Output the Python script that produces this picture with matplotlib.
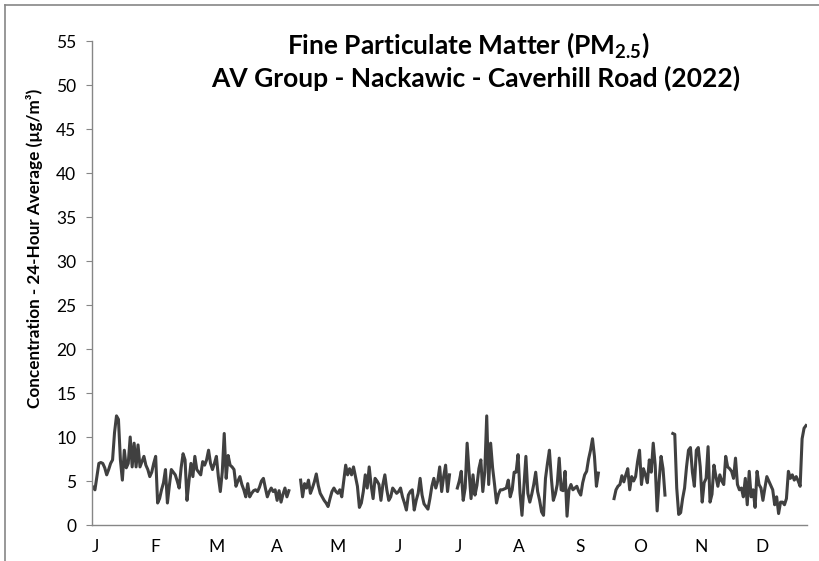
import numpy as np
import matplotlib
matplotlib.use("Agg")
import matplotlib.pyplot as plt
from matplotlib.lines import Line2D

plt.rcParams['font.family'] = ['Lato', 'DejaVu Sans']
plt.rcParams['mathtext.fontset'] = 'custom'
plt.rcParams['mathtext.rm'] = 'Lato'
plt.rcParams['mathtext.bf'] = 'Lato:bold'

nan = np.nan

# daily 24-hour PM2.5 averages (ug/m3), by month
jan = [4.3, 4.0, 5.5, 7.0, 7.1, 7.0, 6.5, 5.7, 6.3, 7.0, 7.4, 10.5, 12.4, 12.0, 7.4, 5.1,
       8.5, 6.5, 7.0, 10.0, 6.6, 9.3, 6.6, 9.1, 6.6, 7.2, 7.8, 6.8, 6.3, 5.5, 6.0]
feb = [7.0, 7.8, 2.5, 3.0, 4.0, 4.8, 6.3, 2.5, 4.5, 6.3, 6.0, 5.7, 5.0, 4.2, 6.5, 8.1,
       7.4, 2.8, 5.0, 7.0, 5.5, 7.8, 6.3, 6.0, 5.7, 7.2, 6.8, 7.4]
mar = [8.5, 7.0, 6.3, 7.0, 7.8, 5.5, 3.8, 6.0, 10.4, 5.3, 7.9, 6.8, 6.6, 6.3, 4.4, 5.0,
       5.5, 4.6, 4.0, 3.2, 4.7, 3.2, 3.6, 3.9, 4.0, 3.8, 4.3, 5.0, 5.3, 4.2, 3.2]
apr = [3.8, 4.2, 3.8, 4.0, 2.8, 3.9, 2.6, 3.5, 4.2, 3.2, 3.9, nan, nan, nan, nan, nan,
       5.1, 3.2, 4.7, 4.2, 5.1, 3.6, 4.2, 4.9, 5.8, 4.5, 3.6, 3.2, 2.8, 2.5]
may = [2.1, 3.0, 3.8, 4.2, 3.8, 3.6, 4.0, 3.2, 5.0, 6.8, 5.7, 6.4, 5.7, 6.6, 5.5, 4.4,
       2.0, 2.5, 3.8, 5.7, 4.2, 6.6, 4.5, 3.0, 5.3, 5.0, 4.6, 2.8, 4.6, 5.7, 4.0]
jun = [2.8, 3.2, 4.2, 3.9, 3.6, 3.8, 4.2, 3.2, 2.5, 1.7, 3.4, 3.8, 4.0, 1.7, 2.8, 3.6,
       5.3, 3.4, 2.4, 2.1, 1.8, 3.0, 4.4, 5.3, 4.2, 5.0, 6.6, 3.8, 5.5, 6.8]
jul = [3.8, 5.7, nan, nan, nan, 4.2, 5.0, 6.1, 2.8, 4.2, 9.3, 6.0, 3.0, 5.7, 3.4, 4.5,
       6.4, 7.4, 3.8, 6.0, 12.4, 4.6, 9.3, 6.5, 4.6, 2.5, 3.5, 4.0, 4.0, 4.1, 4.2]
aug = [5.1, 3.2, 4.0, 6.0, 6.0, 8.0, 3.6, 1.1, 4.5, 7.8, 3.6, 2.6, 3.5, 4.6, 6.0, 3.8,
       2.8, 1.5, 1.1, 5.3, 7.0, 8.5, 5.3, 2.8, 3.5, 4.6, 7.6, 4.0, 3.9, 6.1, 1.0]
sep = [4.0, 4.6, 4.0, 4.2, 4.4, 3.8, 3.4, 4.8, 5.7, 6.1, 7.5, 8.5, 9.8, 7.8, 4.4, 5.9,
       nan, nan, nan, nan, nan, nan, nan, 3.0, 4.0, 4.4, 4.6, 5.6, 4.9, 5.7]
oct_ = [6.4, 4.0, 5.5, 5.0, 5.5, 7.2, 8.5, 4.6, 6.4, 5.7, 4.8, 7.4, 6.0, 9.3, 6.8, 1.6,
        5.0, 7.8, 6.4, 3.4, nan, nan, nan, 10.4, 10.3, 4.2, 1.2, 1.4, 3.0, 4.2, 6.6]
nov = [8.5, 8.8, 6.0, 4.4, 8.5, 8.8, 6.6, 2.6, 4.8, 5.3, 8.9, 2.6, 3.5, 6.8, 5.5, 4.4,
       5.7, 5.0, 4.6, 7.8, 6.6, 6.4, 6.1, 5.3, 7.6, 4.6, 4.0, 4.2, 3.2, 5.3]
dec = [2.3, 6.1, 3.2, 4.0, 2.0, 6.1, 4.6, 4.2, 2.8, 4.2, 5.5, 5.0, 4.5, 4.0, 2.3, 3.2,
       1.3, 2.6, 2.6, 2.3, 3.0, 6.1, 5.3, 5.7, 5.1, 5.5, 5.0, 4.4, 9.8, 11.0, 11.3]

month_labels = ['J', 'F', 'M', 'A', 'M', 'J', 'J', 'A', 'S', 'O', 'N', 'D']
yticks = list(range(0, 60, 5))

pm25 = np.array(jan + feb + mar + apr + may + jun + jul + aug + sep + oct_ + nov + dec)
days = np.arange(len(pm25))

fig = plt.figure(figsize=(8.2, 5.61), dpi=100)
ax = fig.add_axes([92 / 820, 1 - 525 / 561, 715 / 820, 484 / 561])

ax.plot(days, pm25, color='#404040', lw=2.2, solid_joinstyle='round')

ax.set_xlim(-0.5, 364.5)
ax.set_ylim(0, 55)
ax.set_yticks(yticks)
ax.tick_params(axis='y', length=4.3, width=0.8, color='#868686', labelsize=12.5, pad=7)
# month letters are spaced evenly along the axis in the original
ax.set_xticks(1 + 30.94 * np.arange(12))
ax.set_xticklabels(month_labels)
ax.tick_params(axis='x', length=0, labelsize=12.5, pad=10)
for s in ['top', 'right']:
    ax.spines[s].set_visible(False)
for s in ['left', 'bottom']:
    ax.spines[s].set_color('#868686')
    ax.spines[s].set_linewidth(1.0)

fig.text(468 / 820, 1 - 45 / 561, r'Fine Particulate Matter (PM$_{\mathbf{2.5}}$)',
         ha='center', va='center', fontsize=19, fontweight='bold')
fig.text(476 / 820, 1 - 78 / 561, 'AV Group - Nackawic - Caverhill Road (2022)',
         ha='center', va='center', fontsize=19, fontweight='bold')
fig.text(35 / 820, 1 - 248 / 561, 'Concentration - 24-Hour Average (µg/m³)',
         rotation=90, ha='center', va='center', fontsize=12.3, fontweight='bold')

# chart-area frame (only top and left edges show in the crop)
fig.add_artist(Line2D([5 / 820, 1], [1 - 5 / 561, 1 - 5 / 561], color='#868686', lw=1.2))
fig.add_artist(Line2D([5 / 820, 5 / 820], [0, 1 - 5 / 561], color='#868686', lw=1.2))

fig.savefig('out.png', dpi=100)
